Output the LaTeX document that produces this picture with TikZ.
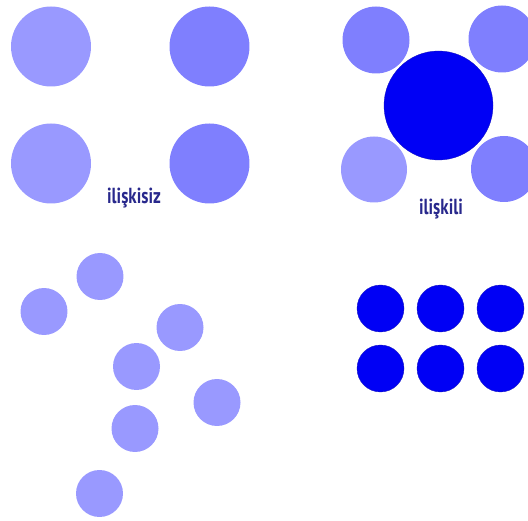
\documentclass[tikz,border=0pt]{standalone}
\usepackage{fontspec}
\newfontfamily\tagfont[FakeStretch=0.78]{PT Sans Bold}
\usetikzlibrary{positioning}
\definecolor{dotlight}{RGB}{153,153,255}
\definecolor{dotmid}{RGB}{127,127,254}
\definecolor{dotdark}{RGB}{0,0,245}
\definecolor{dotedge}{RGB}{20,20,190}
\definecolor{tagblue}{RGB}{40,40,140}

\begin{document}
\begin{tikzpicture}[
        x=0.05cm, y=-0.05cm,
        dot/.style={circle, inner sep=0pt, minimum size=#1},
        lightdot/.style={dot=#1, fill=dotlight},
        middot/.style={dot=#1, fill=dotmid},
        darkdot/.style={dot=#1, fill=dotdark, draw=dotedge, line width=0.5pt},
        tag/.style={font=\tagfont\fontsize{31}{31}\selectfont, text=tagblue, anchor=base, inner sep=0pt}
    ]
        \useasboundingbox (0,0) rectangle (528,521);

        % unrelated: four equal circles
        \node[lightdot=4cm] (uTL) at (51,46.5) {};
        \node[middot=4cm] (uTR) at (209.5,46.5) {};
        \node[lightdot=4cm] (uBL) at (51,163.5) {};
        \node[middot=4cm] (uBR) at (209.5,163.5) {};
        \node[tag] (unrelated) at (134,203.5) {ilişkisiz};

        % related: one big circle with four around it
        \node[middot=3.35cm] (rTL) at (376,40) {};
        \node[middot=3.35cm] (rTR) at (502,39) {};
        \node[lightdot=3.3cm] (rBL) at (374,169.5) {};
        \node[middot=3.3cm] (rBR) at (504,169) {};
        \node[darkdot=5.45cm] (rCenter) at (438.5,105.5) {};
        \node[tag] (related) at (441,215) {ilişkili};

        % scattered small circles
        \node[lightdot=2.35cm] (s1) at (100,276.5) {};
        \node[lightdot=2.35cm] (s2) at (44,311.5) {};
        \node[lightdot=2.35cm] (s3) at (180,327.5) {};
        \node[lightdot=2.35cm] (s4) at (136.5,366.5) {};
        \node[lightdot=2.35cm] (s5) at (217,402.5) {};
        \node[lightdot=2.35cm] (s6) at (135,428.5) {};
        \node[lightdot=2.35cm] (s7) at (99.5,493.5) {};

        % grid of dark circles
        \foreach \col/\x in {1/380.5, 2/440.5, 3/500.5}
            \foreach \row/\y in {1/308.5, 2/368.5}
                \node[darkdot=2.35cm] (g\row\col) at (\x,\y) {};
    \end{tikzpicture}
\end{document}
